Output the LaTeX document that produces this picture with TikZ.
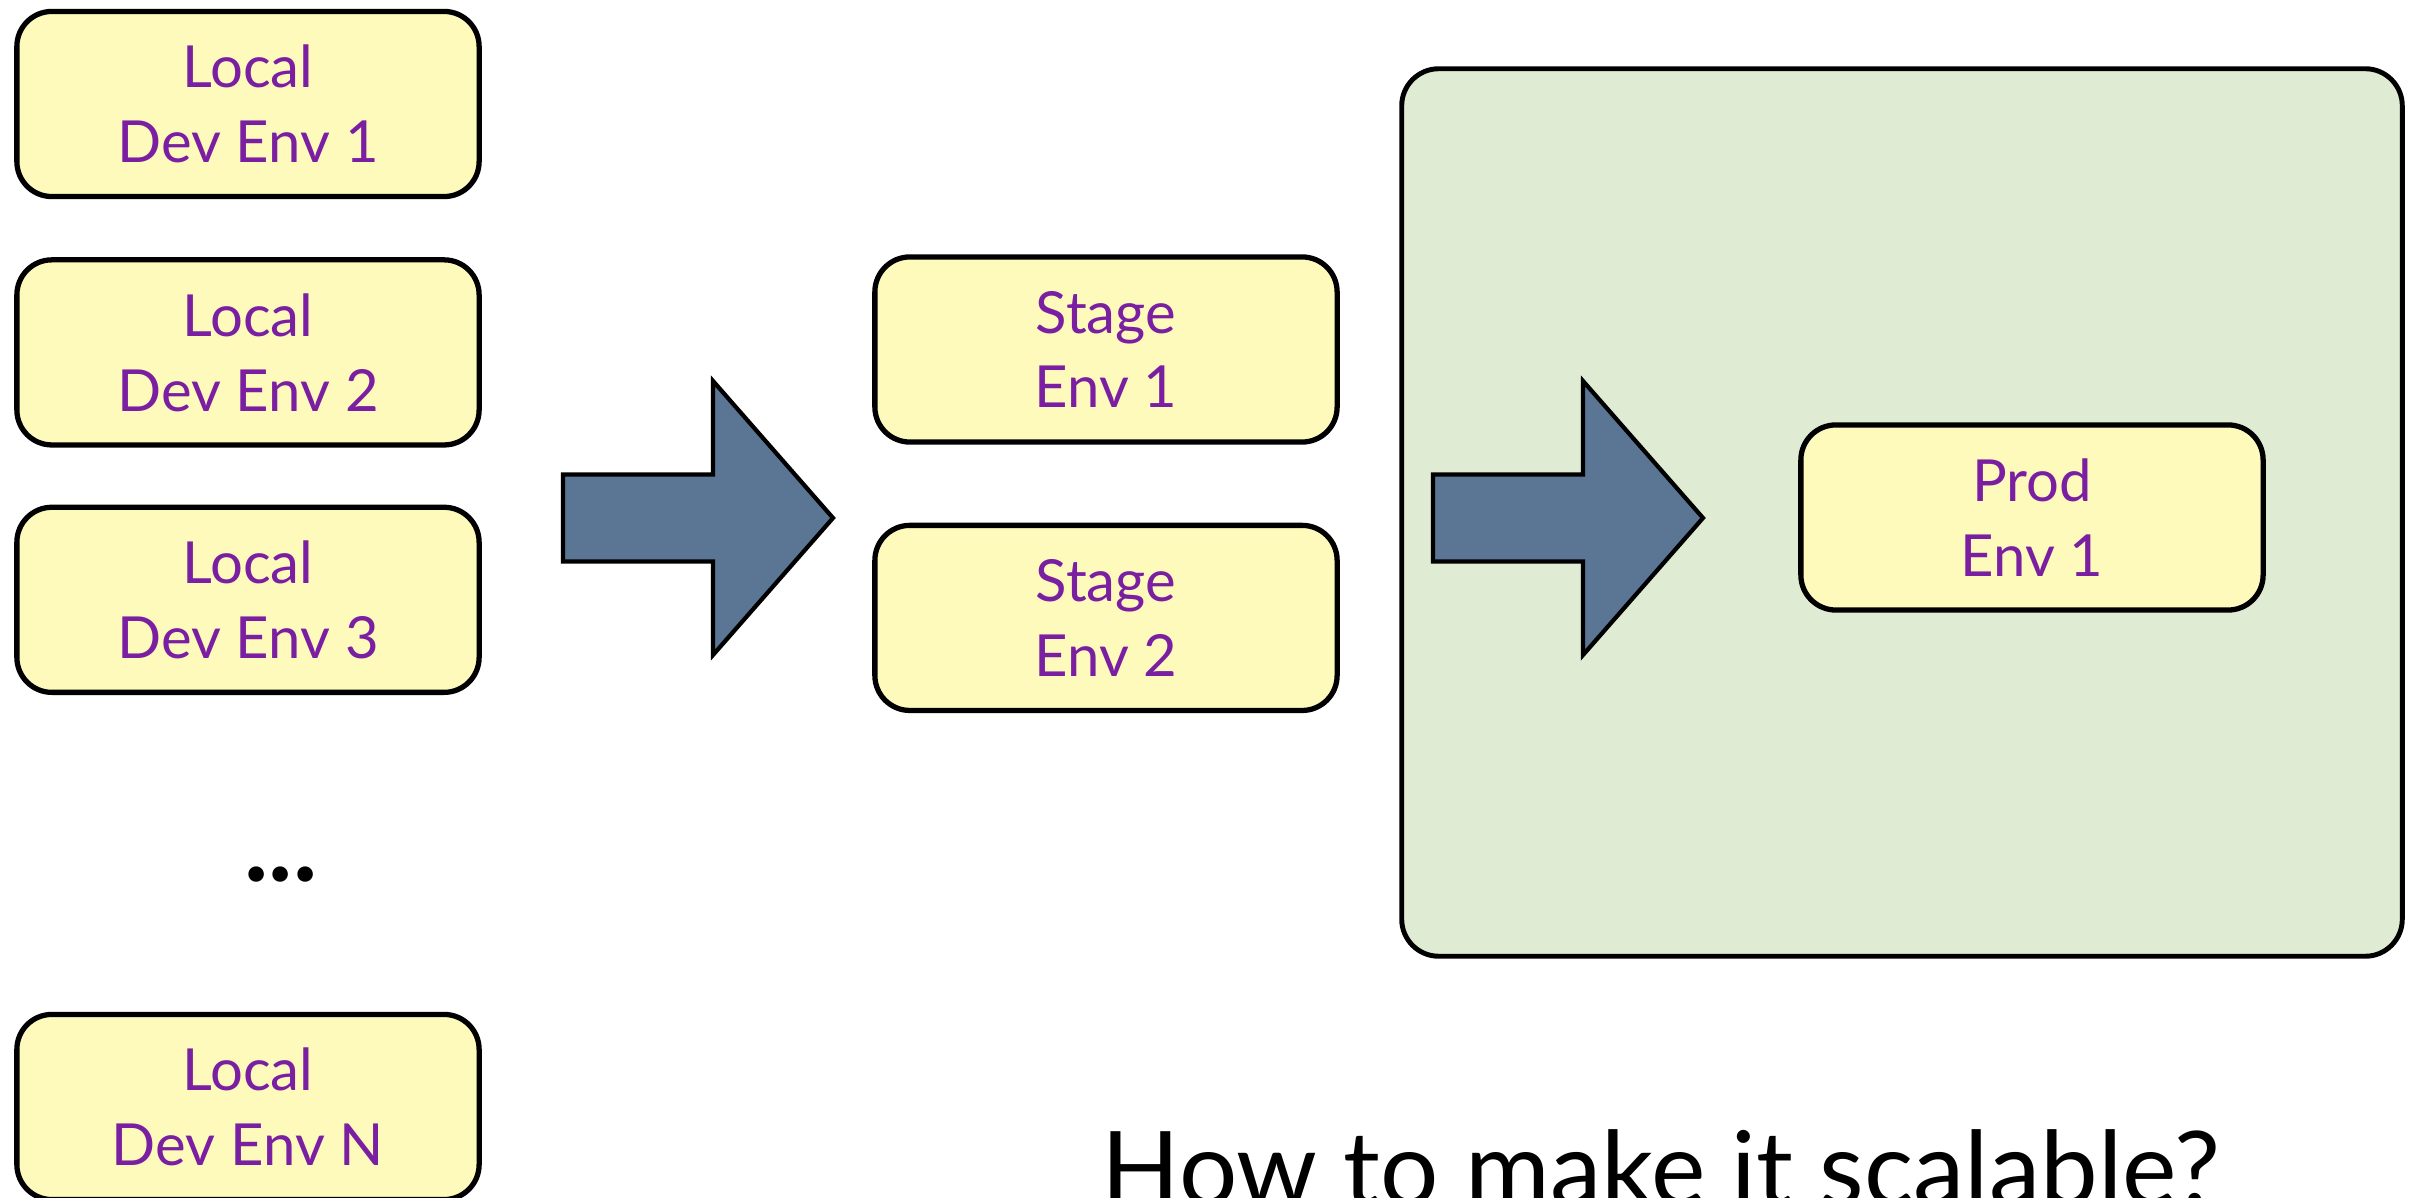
\documentclass[tikz,border=0pt]{standalone}
\usepackage{fontspec}
\setmainfont{Lato}
\usepackage{tikz}
\usetikzlibrary{positioning}

\definecolor{boxyellow}{HTML}{FDFABB}
\definecolor{envpurple}{HTML}{7B1FA2}
\definecolor{prodgreen}{HTML}{E0EBD4}
\definecolor{arrowblue}{HTML}{5B7595}

\tikzstyle{envbox} = [rectangle, rounded corners=0.35cm, minimum width=4.62cm, minimum height=1.85cm, align=center, draw=black, line width=1.5pt, fill=boxyellow, text=envpurple, font=\fontsize{16.5}{21.3}\selectfont]
\tikzstyle{zone} = [rectangle, rounded corners=0.37cm, minimum width=10cm, minimum height=8.87cm, draw=black, line width=1.4pt, fill=prodgreen]
\tikzstyle{bigarrow} = [draw=black, line width=1.2pt, fill=arrowblue, line join=miter]

\begin{document}
\begin{tikzpicture}[x=0.01cm, y=-0.01cm]
\useasboundingbox (0,0) rectangle (2423,1198);

% Local environments
\node (local1) [envbox] at (248,104) {Local\\Dev Env 1};
\node (local2) [envbox, below=0.58cm of local1] {Local\\Dev Env 2};
\node (local3) [envbox, below=0.57cm of local2] {Local\\Dev Env 3};
\node (dots) at (281,875) {\fontsize{29}{35}\selectfont\bfseries ...};
\node (localN) [envbox] at (248,1107) {Local\\Dev Env N};

% Stage environments
\node (stage1) [envbox] at (1106,349.5) {Stage\\Env 1};
\node (stage2) [envbox, below=0.78cm of stage1] {Stage\\Env 2};

% Production area
\node (prodzone) [zone] at (1902,512.5) {};
\node (prod1) [envbox] at (2032,517.5) {Prod\\Env 1};

% Block arrows
\foreach \tail in {563,1433} {
  \draw [bigarrow] (\tail,474.5) -- ++(150,0) -- ++(0,-93.5) -- ++(120,137)
    -- ++(-120,137) -- ++(0,-93.5) -- ++(-150,0) -- cycle;
}

\node (question) [anchor=base] at (1661,1206) {\fontsize{29.3}{35}\selectfont How to make it scalable?};

\end{tikzpicture}
\end{document}
